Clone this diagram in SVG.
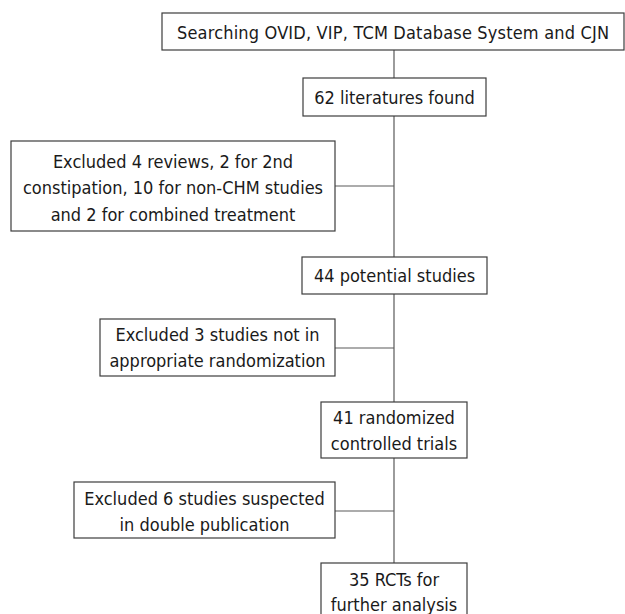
<svg xmlns="http://www.w3.org/2000/svg" width="625" height="614" viewBox="0 0 625 614">
<style>
.box{fill:#fff;stroke:#3c3c3c;stroke-width:1.2}
.ln{stroke:#5a5a5a;stroke-width:1.2;fill:none}
text{font-family:"DejaVu Sans Condensed","DejaVu Sans",sans-serif;font-size:18px;fill:#1a1a1a;text-anchor:middle}
</style>
<rect width="625" height="614" fill="#fff"/>
<g id="connectors">
<path class="ln" d="M394,50V78M394,116V257M394,294V402M394,458V563M335,186H394M335,348H394M335,511H394"/>
</g>
<g id="n1"><rect class="box" x="162" y="13" width="462" height="37"/><text x="393" y="39" textLength="432">Searching OVID, VIP, TCM Database System and CJN</text></g>
<g id="n2"><rect class="box" x="303" y="78" width="183" height="38"/><text x="394.5" y="104">62 literatures found</text></g>
<g id="n3"><rect class="box" x="11" y="141" width="324" height="90"/><text x="173" y="168">Excluded 4 reviews, 2 for 2nd</text><text x="173" y="194">constipation, 10 for non-CHM studies</text><text x="173" y="221">and 2 for combined treatment</text></g>
<g id="n4"><rect class="box" x="302" y="257" width="185" height="37"/><text x="394.5" y="282">44 potential studies</text></g>
<g id="n5"><rect class="box" x="100" y="319" width="235" height="57"/><text x="217.5" y="341">Excluded 3 studies not in</text><text x="217.5" y="367">appropriate randomization</text></g>
<g id="n6"><rect class="box" x="321" y="402" width="146" height="56"/><text x="394" y="424">41 randomized</text><text x="394" y="450">controlled trials</text></g>
<g id="n7"><rect class="box" x="74" y="482" width="261" height="56"/><text x="204.5" y="505">Excluded 6 studies suspected</text><text x="204.5" y="531">in double publication</text></g>
<g id="n8"><rect class="box" x="321" y="563" width="146" height="60"/><text x="394" y="586">35 RCTs for</text><text x="394" y="611">further analysis</text></g>
</svg>
